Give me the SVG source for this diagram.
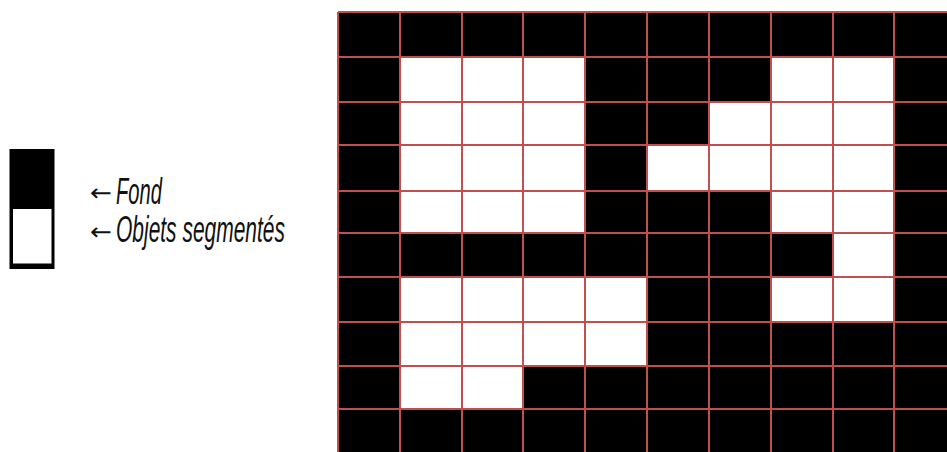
<svg xmlns="http://www.w3.org/2000/svg" width="947" height="452" viewBox="0 0 947 452">
<style>
.bg{fill:#ffffff}
.blk{fill:#000000}
.wht{fill:#ffffff}
.grid line{stroke:#c0504d;stroke-width:2}
.lbl{font-family:"Liberation Sans","DejaVu Sans",sans-serif;font-style:italic;font-size:37px;fill:#111111}
.arr{font-family:"DejaVu Sans",sans-serif;font-size:24px;fill:#111111}
</style>
<rect class="bg" x="0" y="0" width="947" height="452"/>
<g id="legend">
  <rect class="blk" x="9.5" y="149" width="45" height="120"/>
  <rect class="wht" x="13" y="209" width="38.5" height="54.5"/>
</g>
<g id="legend-labels">
  <text class="arr" x="90" y="201" textLength="22" lengthAdjust="spacingAndGlyphs">←</text>
  <text class="lbl" x="116" y="204" textLength="46" lengthAdjust="spacingAndGlyphs">Fond</text>
  <text class="arr" x="90" y="240" textLength="22" lengthAdjust="spacingAndGlyphs">←</text>
  <text class="lbl" x="116" y="242" textLength="169" lengthAdjust="spacingAndGlyphs">Objets segmentés</text>
</g>
<g id="image-grid">
  <rect class="blk" x="338" y="12" width="609" height="440"/>
  <rect class="wht" x="400" y="57" width="185" height="176"/>
  <rect class="wht" x="771" y="57" width="123" height="176"/>
  <rect class="wht" x="709" y="102" width="62" height="89"/>
  <rect class="wht" x="647" y="145" width="62" height="46"/>
  <rect class="wht" x="833" y="233" width="61" height="44"/>
  <rect class="wht" x="400" y="277" width="247" height="89"/>
  <rect class="wht" x="771" y="277" width="123" height="45"/>
  <rect class="wht" x="400" y="366" width="123" height="43"/>
</g>
<g class="grid" id="grid-lines">
  <line x1="338" y1="12" x2="338" y2="452"/>
  <line x1="400" y1="12" x2="400" y2="452"/>
  <line x1="462" y1="12" x2="462" y2="452"/>
  <line x1="523" y1="12" x2="523" y2="452"/>
  <line x1="585" y1="12" x2="585" y2="452"/>
  <line x1="647" y1="12" x2="647" y2="452"/>
  <line x1="709" y1="12" x2="709" y2="452"/>
  <line x1="771" y1="12" x2="771" y2="452"/>
  <line x1="833" y1="12" x2="833" y2="452"/>
  <line x1="894" y1="12" x2="894" y2="452"/>
  <line x1="338" y1="12" x2="947" y2="12"/>
  <line x1="338" y1="57" x2="947" y2="57"/>
  <line x1="338" y1="102" x2="947" y2="102"/>
  <line x1="338" y1="145" x2="947" y2="145"/>
  <line x1="338" y1="191" x2="947" y2="191"/>
  <line x1="338" y1="233" x2="947" y2="233"/>
  <line x1="338" y1="277" x2="947" y2="277"/>
  <line x1="338" y1="322" x2="947" y2="322"/>
  <line x1="338" y1="366" x2="947" y2="366"/>
  <line x1="338" y1="409" x2="947" y2="409"/>
</g>
</svg>
